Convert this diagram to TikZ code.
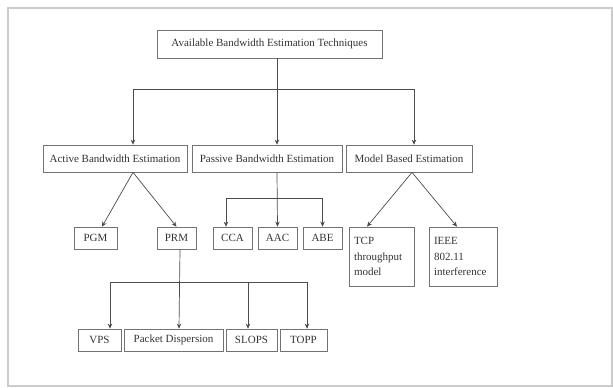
\documentclass[tikz,border=0pt]{standalone}
\usepackage{fontspec}
\setmainfont{Liberation Serif}
\usetikzlibrary{arrows.meta}

\begin{document}
\begin{tikzpicture}[x=1pt,y=-1pt,
    box/.style={draw=black!55, line width=0.7pt, inner sep=0pt, text=black!80,
      font=\fontsize{11}{15.5}\selectfont},
    link/.style={draw=black!70, line width=0.7pt, -{Stealth[length=5pt,width=4.5pt]}},
    wire/.style={draw=black!70, line width=0.7pt}]
  \useasboundingbox (0,0) rectangle (613,388);
  \draw[black!20, line width=1.5pt] (8,8) rectangle (612,386);

  % top level
  \node[box, minimum width=225, minimum height=28] (abet) at (269.5,44) {Available Bandwidth Estimation Techniques};

  % second level
  \node[box, minimum width=144, minimum height=27] (active) at (115,158.5) {Active Bandwidth Estimation};
  \node[box, minimum width=150, minimum height=27] (passive) at (267,158.5) {Passive Bandwidth Estimation};
  \node[box, minimum width=126, minimum height=27] (model) at (409,158.5) {Model Based Estimation};

  % third level
  \node[box, minimum width=43, minimum height=22] (pgm) at (95.5,238) {PGM};
  \node[box, minimum width=39, minimum height=22] (prm) at (176.5,238) {PRM};
  \node[box, minimum width=39, minimum height=22] (cca) at (232.5,238) {CCA};
  \node[box, minimum width=39, minimum height=22] (aac) at (277.5,238) {AAC};
  \node[box, minimum width=39, minimum height=22] (abe) at (322.5,238) {ABE};
  \node[box, minimum width=65, minimum height=59, text width=55, align=left] (tcp) at (381.5,256.5) {TCP\\throughput\\model};
  \node[box, minimum width=68, minimum height=59, text width=58, align=left] (ieee) at (463,256.5) {IEEE\\802.11\\interference};

  % fourth level
  \node[box, minimum width=43, minimum height=22] (vps) at (99.5,340) {VPS};
  \node[box, minimum width=99, minimum height=22] (pd) at (173.5,340) {Packet Dispersion};
  \node[box, minimum width=51, minimum height=22] (slops) at (251.5,340) {SLOPS};
  \node[box, minimum width=47, minimum height=22] (topp) at (303.5,340) {TOPP};

  \draw[wire] ([xshift=7.5pt]abet.south) -- ++(0,31) coordinate (bus1);
  \draw[link] (bus1) -| ([xshift=18pt]active.north);
  \draw[link] (bus1) -| ([xshift=5pt]model.north);
  \draw[link] (bus1) -- ([xshift=10pt]passive.north);

  \draw[link] ([xshift=18pt]active.south) -- ([xshift=6.5pt]pgm.north);
  \draw[link] ([xshift=18pt]active.south) -- (prm.north);

  \draw[link] ([xshift=10pt]passive.south) -- (aac.north);
  \draw[link] ([xshift=10pt,yshift=-26pt]passive.south) -| ([xshift=-6.5pt]cca.north);
  \draw[link] ([xshift=10pt,yshift=-26pt]passive.south) -| (abe.north);

  \draw[link] ([xshift=3pt]model.south) -- ([xshift=-14.5pt]tcp.north);
  \draw[link] ([xshift=3pt]model.south) -- ([xshift=-6pt]ieee.north);

  \draw[link] ([xshift=3.5pt]prm.south) -- ([xshift=5.5pt]pd.north);
  \draw[link] ([xshift=3.5pt,yshift=-33pt]prm.south) -| ([xshift=10.5pt]vps.north);
  \draw[link] ([xshift=3.5pt,yshift=-33pt]prm.south) -| ([xshift=-3.5pt]slops.north);
  \draw[link] ([xshift=3.5pt,yshift=-33pt]prm.south) -| ([xshift=3.5pt]topp.north);
\end{tikzpicture}
\end{document}
